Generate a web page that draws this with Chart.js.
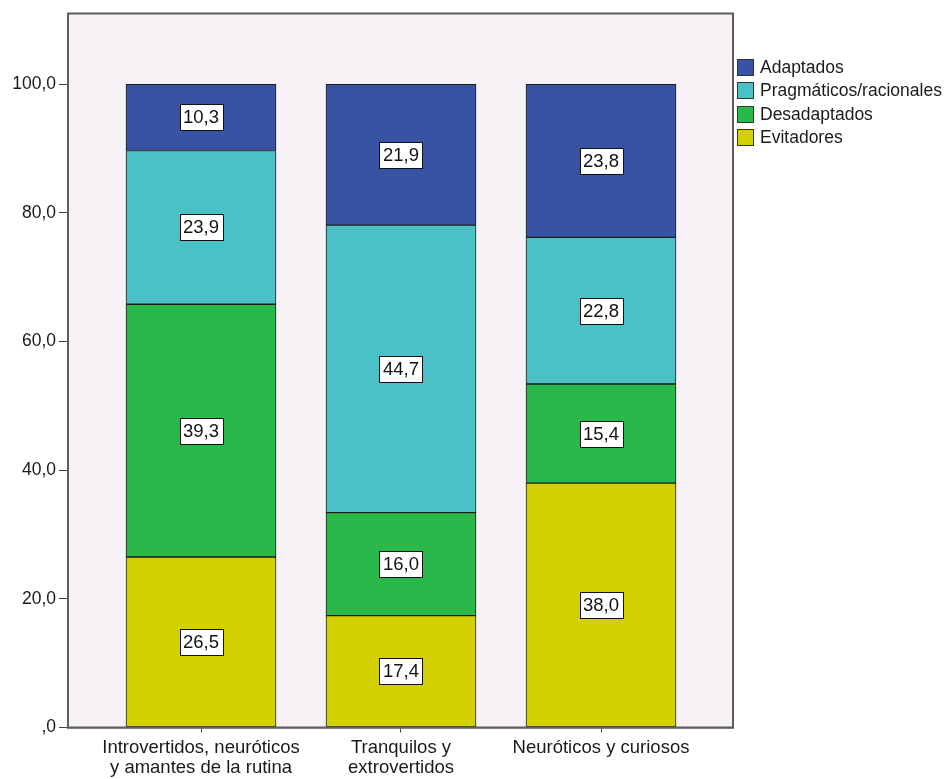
<!DOCTYPE html>
<html>
<head>
<meta charset="utf-8">
<script src="https://cdn.jsdelivr.net/npm/chart.js@4/dist/chart.umd.min.js"></script>
<style>
  html, body { margin: 0; padding: 0; background: #ffffff; }
  #wrap { width: 948px; height: 779px; }
</style>
</head>
<body>
<div id="wrap"><canvas id="chart" width="948" height="779"></canvas></div>
<script>
// Grupos (eje X) y porcentajes de cada perfil por grupo
const categories = [
  ["Introvertidos, neuróticos", "y amantes de la rutina"],
  ["Tranquilos y", "extrovertidos"],
  ["Neuróticos y curiosos"]
];
const evitadores   = [26.5, 17.4, 38.0];
const desadaptados = [39.3, 16.0, 15.4];
const pragmaticos  = [23.9, 44.7, 22.8];
const adaptados    = [10.3, 21.9, 23.8];
const yTicks = [0, 20, 40, 60, 80, 100];

const FONT = "'Liberation Sans', Arial, sans-serif";
const TEXT = '#1a1a1a';

const fmt = v => v === 0 ? ',0' : v.toFixed(1).replace('.', ',');
const points = arr => arr.map((v, i) => ({ x: i, y: v }));

const series = [
  { label: 'Evitadores',             data: evitadores,   color: '#d2d000' },
  { label: 'Desadaptados',           data: desadaptados, color: '#2bb84a' },
  { label: 'Pragmáticos/racionales', data: pragmaticos,  color: '#4bc1c7' },
  { label: 'Adaptados',              data: adaptados,    color: '#3953a4' }
];

// Fondo y marco del área de trazado
const frame = {
  id: 'frame',
  beforeDraw(chart) {
    const a = chart.chartArea, c = chart.ctx;
    c.save();
    c.fillStyle = '#f6f2f6';
    c.fillRect(a.left, a.top, a.right - a.left, a.bottom - a.top);
    c.restore();
  },
  afterDraw(chart) {
    const a = chart.chartArea, c = chart.ctx;
    c.save();
    c.strokeStyle = '#5e5e5e';
    c.lineWidth = 2;
    c.strokeRect(a.left, a.top, a.right - a.left, a.bottom - a.top);
    c.restore();
  }
};

// Etiquetas de valor en recuadro blanco centradas en cada segmento
const valueBoxes = {
  id: 'valueBoxes',
  afterDatasetsDraw(chart) {
    const c = chart.ctx;
    c.save();
    c.font = '18.5px ' + FONT;
    c.textAlign = 'center';
    c.textBaseline = 'middle';
    chart.data.datasets.forEach((ds, di) => {
      chart.getDatasetMeta(di).data.forEach((el, i) => {
        const v = ds.data[i].y;
        const cx = el.x;
        const cy = (el.y + el.base) / 2;
        const w = 43, h = 26;
        const bx = Math.round(cx - w / 2) + 0.5, by = Math.round(cy - h / 2) + 0.5;
        c.fillStyle = '#ffffff';
        c.fillRect(bx, by, w, h);
        c.strokeStyle = '#111111';
        c.lineWidth = 1;
        c.strokeRect(bx, by, w, h);
        c.fillStyle = '#111111';
        c.fillText(fmt(v), cx, cy + 1);
      });
    });
    c.restore();
  }
};

// Leyenda a la derecha (orden inverso al apilado)
const sideLegend = {
  id: 'sideLegend',
  afterDraw(chart) {
    const c = chart.ctx;
    const x0 = chart.chartArea.right + 4;
    const y0 = 59;
    const step = 23.3;
    c.save();
    c.font = '17.5px ' + FONT;
    c.textBaseline = 'middle';
    c.textAlign = 'left';
    const items = chart.data.datasets.slice().reverse();
    items.forEach((ds, i) => {
      const y = Math.round(y0 + i * step);
      c.fillStyle = ds.backgroundColor;
      c.fillRect(x0 + 0.5, y + 0.5, 16, 16);
      c.strokeStyle = '#333333';
      c.lineWidth = 1;
      c.strokeRect(x0 + 0.5, y + 0.5, 16, 16);
      c.fillStyle = TEXT;
      c.fillText(ds.label, x0 + 23, y + 9);
    });
    c.restore();
  }
};

new Chart(document.getElementById('chart'), {
  type: 'bar',
  data: {
    datasets: series.map(s => ({
      label: s.label,
      data: points(s.data),
      backgroundColor: s.color,
      borderColor: '#1e1e1e',
      borderWidth: 1,
      borderSkipped: false,
      barThickness: 150
    }))
  },
  options: {
    responsive: false,
    animation: false,
    layout: { padding: { top: 11.5, right: 215, bottom: 0, left: 0 } },
    plugins: { legend: { display: false }, tooltip: { enabled: false } },
    scales: {
      x: {
        type: 'linear',
        stacked: true,
        offset: false,
        min: -0.665,
        max: 2.66,
        afterBuildTicks(scale) { scale.ticks = categories.map((_, i) => ({ value: i })); },
        afterFit(scale) { scale.height = 51.5; },
        ticks: {
          callback: v => categories[v],
          color: TEXT,
          font: { family: FONT, size: 18.5, lineHeight: 1.1 },
          padding: 5,
          maxRotation: 0,
          autoSkip: false
        },
        grid: { display: true, offset: false, drawOnChartArea: false, tickLength: 5, color: '#444444' },
        border: { display: true, color: '#444444', width: 1.5 }
      },
      y: {
        stacked: true,
        min: 0,
        max: 111,
        afterBuildTicks(scale) { scale.ticks = yTicks.map(v => ({ value: v })); },
        afterFit(scale) { scale.width = 68; },
        ticks: {
          callback: v => fmt(v),
          color: TEXT,
          font: { family: FONT, size: 17.5 },
          padding: 3
        },
        grid: { display: true, drawOnChartArea: false, tickLength: 9, color: '#444444' },
        border: { display: true, color: '#444444', width: 1.5 }
      }
    }
  },
  plugins: [frame, valueBoxes, sideLegend]
});
</script>
</body>
</html>
